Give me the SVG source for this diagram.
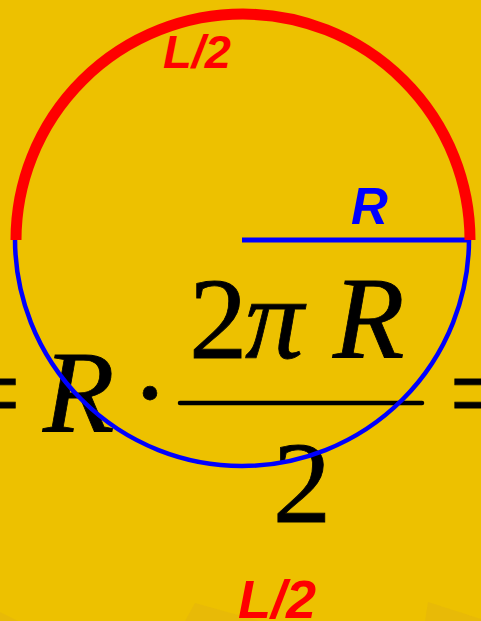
<svg xmlns="http://www.w3.org/2000/svg" width="481" height="621" viewBox="0 0 481 621">
<style>
.math{font-family:"Liberation Serif","Times New Roman",serif;fill:#000;stroke:#000;stroke-width:0.8}
.it{font-style:italic}
.lbl{font-family:"Liberation Sans",Arial,sans-serif;font-weight:bold;font-style:italic}
.shadow{fill:#E4B60C;opacity:0.6}
</style>
<rect id="background" x="0" y="0" width="481" height="621" fill="#EDC100"/>
<g id="shadows">
<polygon class="shadow" points="195,603 260,621 185,621"/>
<polygon class="shadow" points="428,602 481,619 481,621 425,621"/>
<polygon class="shadow" points="0,612 18,621 0,621"/>
</g>
<g id="formula">
<text class="math" x="-45" y="432" font-size="117">=</text>
<text class="math it" x="43" y="432" font-size="117">R</text>
<text class="math" x="150" y="432" font-size="117" text-anchor="middle">·</text>
<text class="math" y="358" font-size="117"><tspan x="189">2</tspan><tspan class="it" x="245">π</tspan><tspan class="it" x="333">R</tspan></text>
<line x1="180" y1="403" x2="422" y2="403" stroke="#000" stroke-width="4.5" stroke-linecap="round"/>
<text class="math" x="302" y="522" font-size="117" text-anchor="middle">2</text>
<text class="math" x="449" y="432" font-size="117">=</text>
</g>
<g id="circle">
<circle cx="242" cy="239" r="227" fill="none" stroke="#0000FF" stroke-width="4.5"/>
</g>
<g id="radius">
<line x1="242" y1="240" x2="470" y2="240" stroke="#0000FF" stroke-width="5"/>
</g>
<g id="half-arc">
<path d="M16,240 A227,226 0 0 1 470,240" fill="none" stroke="#FF0000" stroke-width="11"/>
</g>
<g id="labels">
<text class="lbl" x="163" y="68" font-size="47" fill="#FF0000">L/2</text>
<text class="lbl" x="351" y="224" font-size="51" fill="#0000FF">R</text>
<text class="lbl" x="238" y="618" font-size="54" fill="#FF0000">L/2</text>
</g>
</svg>
